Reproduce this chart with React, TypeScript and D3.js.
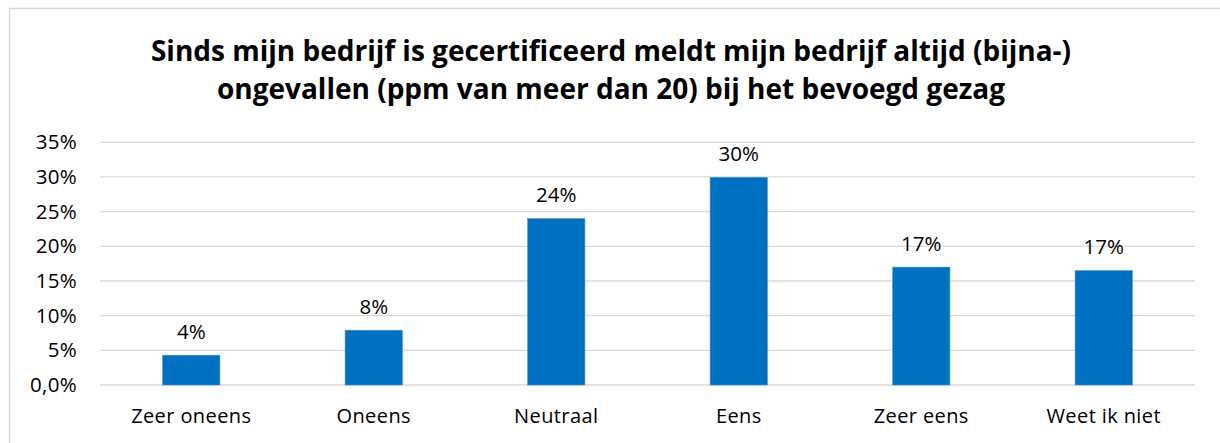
import React from "react";
import * as d3 from "d3";

const categories = ["Zeer oneens", "Oneens", "Neutraal", "Eens", "Zeer eens", "Weet ik niet"];
const values = [0.043, 0.079, 0.24, 0.2995, 0.17, 0.165];
const valueLabels = ["4%", "8%", "24%", "30%", "17%", "17%"];
const yTicks = [0, 0.05, 0.1, 0.15, 0.2, 0.25, 0.3, 0.35];
const yTickLabels = ["0,0%", "5%", "10%", "15%", "20%", "25%", "30%", "35%"];
const titleLines = [
  "Sinds mijn bedrijf is gecertificeerd meldt mijn bedrijf altijd (bijna-)",
  "ongevallen (ppm van meer dan 20) bij het bevoegd gezag",
];

const W = 1220;
const H = 443;
const FONT = "'Open Sans', 'Noto Sans', sans-serif";

export default function App() {
  const left = 100;
  const right = 1195;
  const top = 142.3;
  const bottom = 385;
  const x = d3.scaleBand<string>().domain(categories).range([left, right]).paddingInner(0.686).paddingOuter(0.343);
  const y = d3.scaleLinear().domain([0, 0.35]).range([bottom, top]);

  return (
    <svg
      width={W}
      height={H}
      style={{ position: "fixed", left: 0, top: 0, background: "#fff" }}
      fontFamily={FONT}
    >
      <rect x={9.5} y={8.5} width={W + 20} height={H + 20} fill="#fff" stroke="#d9d9d9" strokeWidth={1.5} />
      {titleLines.map((t, i) => (
        <text
          key={i}
          x={611}
          y={61 + i * 38}
          textAnchor="middle"
          fontSize={28}
          fontWeight={700}
          fill="#000"
          letterSpacing={0}
        >
          {t}
        </text>
      ))}
      {yTicks.map((v, i) => (
        <g key={i}>
          <line x1={left} x2={right} y1={y(v)} y2={y(v)} stroke="#d9d9d9" strokeWidth={1.3} />
          <text x={77} y={y(v) + 7} textAnchor="end" fontSize={20.5} letterSpacing={0.3} fill="#000">
            {yTickLabels[i]}
          </text>
        </g>
      ))}
      {categories.map((c, i) => (
        <g key={c}>
          <rect
            x={x(c)!}
            y={y(values[i])}
            width={x.bandwidth()}
            height={bottom - y(values[i])}
            fill="#0070C0"
            stroke="#4a8fd0"
            strokeWidth={0.6}
          />
          <text
            x={x(c)! + x.bandwidth() / 2}
            y={y(values[i]) - 16.5}
            textAnchor="middle"
            fontSize={20.5}
            fill="#000"
          >
            {valueLabels[i]}
          </text>
          <text
            x={x(c)! + x.bandwidth() / 2}
            y={423}
            textAnchor="middle"
            fontSize={20}
            letterSpacing={0.4}
            fill="#000"
          >
            {c}
          </text>
        </g>
      ))}
    </svg>
  );
}
